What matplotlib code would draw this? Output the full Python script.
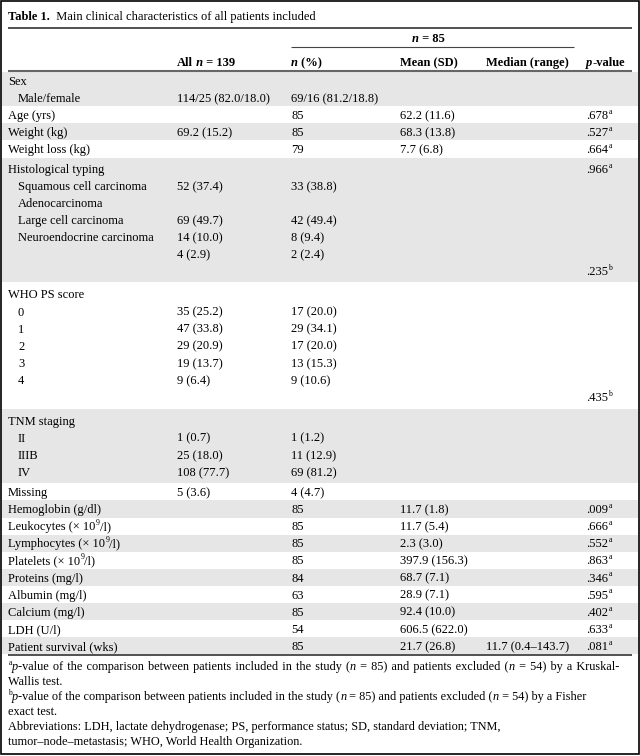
import re
import matplotlib.pyplot as plt
from matplotlib.patches import Rectangle

plt.rcParams['font.family'] = ['Liberation Serif', 'DejaVu Serif']

# ---- table content ----
title = "<b>Table 1.</b>  Main clinical characteristics of all patients included"
span_header = "<bi>n</bi><b> = 85</b>"
col_headers = ["<b>All </b><bi>n</bi><b> = 139</b>", "<bi>n</bi><b> (%)</b>",
               "<b>Mean (SD)</b>", "<b>Median (range)</b>", "<bi>p</bi><b>-value</b>"]

# rows per shaded/white band
group_sizes = [2, 1, 1, 1, 7, 7, 4, 1, 1, 1, 1, 1, 1, 1, 1, 1, 1]

row_labels = ["Sex", "Male/female", "Age (yrs)", "Weight (kg)", "Weight loss (kg)",
              "Histological typing", "Squamous cell carcinoma", "Adenocarcinoma",
              "Large cell carcinoma", "Neuroendocrine carcinoma", "", "",
              "WHO PS score", "0", "1", "2", "3", "4", "",
              "TNM staging", "II", "IIIB", "IV", "Missing",
              "Hemoglobin (g/dl)", "Leukocytes (× 10<sup>9</sup>/l)",
              "Lymphocytes (× 10<sup>9</sup>/l)", "Platelets (× 10<sup>9</sup>/l)",
              "Proteins (mg/l)", "Albumin (mg/l)", "Calcium (mg/l)", "LDH (U/l)",
              "Patient survival (wks)"]
row_indent = [0, 1, 0, 0, 0,
              0, 1, 1, 1, 1, 0, 0,
              0, 1, 1, 1, 1, 1, 0,
              0, 1, 1, 1, 0,
              0, 0, 0, 0, 0, 0, 0, 0, 0]

col_all = ["", "114/25 (82.0/18.0)", "", "69.2 (15.2)", "",
           "", "52 (37.4)", "", "69 (49.7)", "14 (10.0)", "4 (2.9)", "",
           "", "35 (25.2)", "47 (33.8)", "29 (20.9)", "19 (13.7)", "9 (6.4)", "",
           "", "1 (0.7)", "25 (18.0)", "108 (77.7)", "5 (3.6)",
           "", "", "", "", "", "", "", "", ""]
col_npct = ["", "69/16 (81.2/18.8)", "85", "85", "79",
            "", "33 (38.8)", "", "42 (49.4)", "8 (9.4)", "2 (2.4)", "",
            "", "17 (20.0)", "29 (34.1)", "17 (20.0)", "13 (15.3)", "9 (10.6)", "",
            "", "1 (1.2)", "11 (12.9)", "69 (81.2)", "4 (4.7)",
            "85", "85", "85", "85", "84", "63", "85", "54", "85"]
col_mean = ["", "", "62.2 (11.6)", "68.3 (13.8)", "7.7 (6.8)",
            "", "", "", "", "", "", "",
            "", "", "", "", "", "", "",
            "", "", "", "", "",
            "11.7 (1.8)", "11.7 (5.4)", "2.3 (3.0)", "397.9 (156.3)", "68.7 (7.1)",
            "28.9 (7.1)", "92.4 (10.0)", "606.5 (622.0)", "21.7 (26.8)"]
col_median = [""] * 32 + ["11.7 (0.4–143.7)"]
col_p = ["", "", ".678<sup>a</sup>", ".527<sup>a</sup>", ".664<sup>a</sup>",
         ".966<sup>a</sup>", "", "", "", "", "", ".235<sup>b</sup>",
         "", "", "", "", "", "", ".435<sup>b</sup>",
         "", "", "", "", "",
         ".009<sup>a</sup>", ".666<sup>a</sup>", ".552<sup>a</sup>", ".863<sup>a</sup>",
         ".346<sup>a</sup>", ".595<sup>a</sup>", ".402<sup>a</sup>", ".633<sup>a</sup>",
         ".081<sup>a</sup>"]

footnotes = [
    "<sup>a</sup><i>p</i>-value of the comparison between patients included in the study "
    "(<i>n</i> = 85) and patients excluded (<i>n</i> = 54) by a Kruskal-",
    "Wallis test.",
    "<sup>b</sup><i>p</i>-value of the comparison between patients included in the study "
    "(<i>n</i> = 85) and patients excluded (<i>n</i> = 54) by a Fisher",
    "exact test.",
    "Abbreviations: LDH, lactate dehydrogenase; PS, performance status; SD, standard deviation; TNM,",
    "tumor–node–metastasis; WHO, World Health Organization.",
]
justified = [True, False, False, False, False, False]

STYLES = {'': {}, 'i': dict(style='italic'), 'b': dict(weight='bold'),
          'bi': dict(weight='bold', style='italic')}


def rich(ax, x, y, s, size=9):
    # split simple <tag>..</tag> markup into styled pieces, chained left to right
    parts = []
    for tok in re.split(r'(<\w+>.*?</\w+>)', s):
        if not tok:
            continue
        m = re.match(r'<(\w+)>(.*?)</\1>', tok)
        parts.append((m.group(1), m.group(2)) if m else ('', tok))
    # trailing spaces don't count in text extents, so move them to the next piece
    for k in range(len(parts) - 1):
        tag, txt = parts[k]
        n = len(txt) - len(txt.rstrip(' \u2004'))
        if n:
            parts[k] = (tag, txt[:len(txt) - n])
            parts[k + 1] = (parts[k + 1][0], txt[len(txt) - n:] + parts[k + 1][1])
    prev = None
    for tag, txt in parts:
        if tag == 'sup':
            kw = dict(fontsize=size * 0.62)
            off = (0.3, size * 0.42)
        else:
            kw = dict(fontsize=size, **STYLES[tag])
            off = (0, 0)
        if prev is None:
            prev = ax.annotate(txt, xy=(x, y), xycoords='data', xytext=off,
                               textcoords='offset points', va='baseline', ha='left', **kw)
        else:
            prev = ax.annotate(txt, xy=(1, y), xycoords=(prev, 'data'), xytext=off,
                               textcoords='offset points', va='baseline', ha='left', **kw)


fig = plt.figure(figsize=(6.4, 7.56), dpi=100)
ax = fig.add_axes([0, 0, 1, 1])
ax.set_xlim(0, 640)
ax.set_ylim(756, 0)
ax.axis('off')

# layout (pixels)
x_label, x_indent = 8, 18
col_x = [177, 291, 400, 486, 586]
top, pitch = 72, 17.1
base_off = 4.2
# extra padding above and below the multi-line groups
group_pad = [0, 0, 0, 0, 2.5, 3.5, 3, 0, 0, 0, 0, 0, 0, 0, 0, 0, 0]

row_y = []
y = top
for g, n in enumerate(group_sizes):
    y0 = y
    y += group_pad[g]
    for _ in range(n):
        row_y.append(y + pitch / 2)
        y += pitch
    y += group_pad[g]
    if g % 2 == 0:
        ax.add_patch(Rectangle((1, y0), 637, y - y0,
                               facecolor='#e6e6e6', edgecolor='none', zorder=0))
y_end = y

# title and header
rich(ax, x_label, 20, title)
ax.hlines(28, 8, 632, color='#222222', lw=1.1)
rich(ax, 412, 42, span_header)
ax.hlines(47, 291, 574, color='#444444', lw=0.8)
for cx, h in zip(col_x, col_headers):
    rich(ax, cx, 66, h)
ax.hlines(71, 8, 632, color='#666666', lw=1.5)

# body
columns = [col_all, col_npct, col_mean, col_median, col_p]
for i, lab in enumerate(row_labels):
    yb = row_y[i] + base_off
    if lab:
        rich(ax, x_indent if row_indent[i] else x_label, yb, lab)
    for cx, col in zip(col_x, columns):
        if col[i]:
            rich(ax, cx, yb, col[i])

ax.hlines(y_end + 1, 8, 632, color='#222222', lw=1.1)

# footnotes
for k, line in enumerate(footnotes):
    if justified[k]:
        line = line.replace(' ', '\u2004')
    rich(ax, x_label, y_end + 16 + 15 * k, line, size=8.8)

# outer frame
ax.add_patch(Rectangle((0.5, 0.5), 638.5, 753, facecolor='none',
                       edgecolor='black', lw=1.2, zorder=5))

fig.savefig('out.png', dpi=100)
